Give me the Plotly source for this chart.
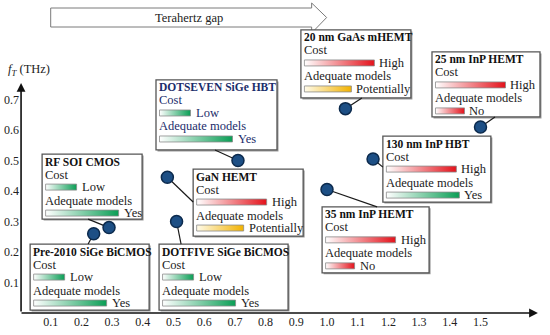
import plotly.graph_objects as go

# ---------------- data ----------------
names = ["Pre-2010 SiGe BiCMOS", "RF SOI CMOS", "DOTSEVEN SiGe HBT", "GaN HEMT",
         "DOTFIVE SiGe BiCMOS", "20 nm GaAs mHEMT", "25 nm InP HEMT",
         "130 nm InP HBT", "35 nm InP HEMT"]
fmax = [0.24, 0.29, 0.71, 0.48, 0.51, 1.06, 1.50, 1.15, 1.00]
ft = [0.26, 0.28, 0.50, 0.445, 0.30, 0.67, 0.61, 0.505, 0.405]
cost = ["Low", "Low", "Low", "High", "Low", "High", "High", "High", "High"]
models = ["Yes", "Yes", "Yes", "Potentially", "Yes", "Potentially", "No", "Yes", "No"]

x_ticks = [0.1, 0.2, 0.3, 0.4, 0.5, 0.6, 0.7, 0.8, 0.9, 1.0, 1.1, 1.2, 1.3, 1.4, 1.5]
y_ticks = [0.1, 0.2, 0.3, 0.4, 0.5, 0.6, 0.7]
gap_from, gap_to = 0.1, 0.95   # "Terahertz gap" arrow body (fmax units)

# ---------------- layout / style ----------------
W, H = 550, 335
ML, MR, MT, MB = 20, 0, 0, 22
XMAX, YMAX = 1.7264, 1.0262
PW, PH = W - ML - MR, H - MT - MB
KX = PW / XMAX     # px per x unit
KY = PH / YMAX     # px per y unit
FONT = "Liberation Serif, Times New Roman, serif"

# box placement (top-left in axis units), size in px, connector anchor offset in px
box_x0 = [0.033, 0.072, 0.443, 0.564, 0.453, 0.915, 1.342, 1.182, 0.984]
box_yt = [0.226, 0.521, 0.764, 0.472, 0.226, 0.928, 0.856, 0.580, 0.348]
box_w = [119, 100, 121, 110, 129, 110, 108, 108, 107]
box_h = [66, 65, 70, 67, 66, 68, 65, 66, 66]
anc_dx = [58, 46, 59, 0, 22, 61, 63, 0, 55]
anc_dy = [0, 65, 70, 33, 0, 68, 65, 31, 0]
title_color = ["#111", "#111", "#1b2d6b", "#111", "#111", "#111", "#111", "#111", "#111"]
text_color = ["#222", "#222", "#1b2d6b", "#222", "#222", "#222", "#222", "#222", "#222"]

GREEN, RED, YELLOW = "#0a9e55", "#e4121b", "#f2b200"
bar_len = {"Low": 31, "High": 70, "Yes": 73, "Potentially": 47, "No": 29}
bar_col = {"Low": GREEN, "High": RED, "Yes": GREEN, "Potentially": YELLOW, "No": RED}
bar_start = {GREEN: "#ffffff", RED: "#ffffff", YELLOW: "#fffbea"}

fig = go.Figure()
shapes, annos = [], []

def dx(p):
    return p / KX

def dy(p):
    return p / KY

# Terahertz gap arrow
gy0, gy1 = YMAX - dy(27), YMAX - dy(8)
hy0, hy1 = YMAX - dy(33), YMAX - dy(3)
gmid = (gy0 + gy1) / 2
tip = gap_to + dx(15)
path = (f"M{gap_from},{gy0} L{gap_to},{gy0} L{gap_to},{hy0} L{tip},{gmid} "
        f"L{gap_to},{hy1} L{gap_to},{gy1} L{gap_from},{gy1} Z")
shapes.append(dict(type="path", path=path, xref="x", yref="y",
                   line=dict(color="#7a7a7a", width=1), fillcolor="white", layer="below"))
annos.append(dict(x=(gap_from + gap_to) / 2 + dx(8), y=gmid, text="Terahertz gap",
                  showarrow=False, xanchor="center", yanchor="middle",
                  font=dict(family=FONT, size=12.5, color="#222")))

# connectors
cx, cy = [], []
for i in range(len(names)):
    cx += [fmax[i], box_x0[i] + dx(anc_dx[i]), None]
    cy += [ft[i], box_yt[i] - dy(anc_dy[i]), None]
fig.add_trace(go.Scatter(x=cx, y=cy, mode="lines", line=dict(color="#1a1a1a", width=1.2),
                         hoverinfo="skip", showlegend=False))

# boxes
for i in range(len(names)):
    x0, yt = box_x0[i], box_yt[i]
    x1, yb = x0 + dx(box_w[i]), yt - dy(box_h[i])
    shapes.append(dict(type="rect", xref="x", yref="y", x0=x0 + dx(1.5), x1=x1 + dx(1.5),
                       y0=yb - dy(1.5), y1=yt - dy(1.5), line=dict(width=0),
                       fillcolor="#9a9a9a", layer="below"))
    shapes.append(dict(type="rect", xref="x", yref="y", x0=x0, x1=x1, y0=yb, y1=yt,
                       line=dict(color="#555555", width=1.3), fillcolor="white", layer="below"))
    tx = x0 + dx(1)
    annos.append(dict(x=tx, y=yt - dy(7.5), text="<b>" + names[i] + "</b>", showarrow=False,
                      xanchor="left", yanchor="middle",
                      font=dict(family=FONT, size=11.5, color=title_color[i])))
    annos.append(dict(x=tx, y=yt - dy(20.5), text="Cost", showarrow=False,
                      xanchor="left", yanchor="middle",
                      font=dict(family=FONT, size=12.5, color=text_color[i])))
    annos.append(dict(x=tx, y=yt - dy(46.5), text="Adequate models", showarrow=False,
                      xanchor="left", yanchor="middle",
                      font=dict(family=FONT, size=12.5, color=text_color[i])))
    for lvl, off in ((cost[i], 33), (models[i], 59)):
        bx0 = x0 + dx(3.5)
        bx1 = bx0 + dx(bar_len[lvl])
        by0, by1 = yt - dy(off + 3), yt - dy(off - 3)
        col = bar_col[lvl]
        fig.add_trace(go.Scatter(
            x=[bx0, bx1, bx1, bx0, bx0], y=[by0, by0, by1, by1, by0],
            mode="lines", fill="toself",
            line=dict(color="#8a8a8a", width=0.8),
            fillgradient=dict(type="horizontal",
                              colorscale=[[0, bar_start[col]], [1, col]]),
            hoverinfo="skip", showlegend=False))
        annos.append(dict(x=bx1 + dx(3), y=(by0 + by1) / 2, text=lvl, showarrow=False,
                          xanchor="left", yanchor="middle",
                          font=dict(family=FONT, size=12.5, color=text_color[i])))

# device points
fig.add_trace(go.Scatter(x=fmax, y=ft, mode="markers", text=names,
                         marker=dict(size=12, color="#1d4f85",
                                     line=dict(color="#0c2a4d", width=1.5)),
                         hovertemplate="%{text}<br>fmax %{x} THz<br>fT %{y} THz<extra></extra>",
                         showlegend=False))

# axes arrows (paper coordinates, offsets in px)
x_tip = 1.687
y_tip = 0.754
annos.append(dict(x=x_tip / XMAX, y=0, xref="paper", yref="paper",
                  ax=-x_tip * KX, ay=0, axref="pixel", ayref="pixel",
                  text="", showarrow=True, arrowhead=2, arrowsize=1.1, arrowwidth=1.6,
                  arrowcolor="#111"))
annos.append(dict(x=0.002, y=y_tip / YMAX, xref="paper", yref="paper",
                  ax=0, ay=y_tip * KY, axref="pixel", ayref="pixel",
                  text="", showarrow=True, arrowhead=2, arrowsize=1.1, arrowwidth=1.6,
                  arrowcolor="#111"))
annos.append(dict(x=0.029, y=0.797, text="<i>f<sub>T</sub></i> (THz)", showarrow=False,
                  xanchor="center", yanchor="middle",
                  font=dict(family=FONT, size=12.5, color="#222")))
annos.append(dict(x=1.638, y=-0.036, text="<i>f<sub>max</sub></i> (THz)", showarrow=False,
                  xanchor="center", yanchor="middle",
                  font=dict(family=FONT, size=12.5, color="#222")))

fig.update_layout(
    width=W, height=H, margin=dict(l=ML, r=MR, t=MT, b=MB, autoexpand=False),
    paper_bgcolor="white", plot_bgcolor="white",
    shapes=shapes, annotations=annos, showlegend=False,
    xaxis=dict(range=[0, XMAX], showgrid=False, zeroline=False, showline=False,
               automargin=False,
               tickvals=x_ticks, ticktext=[f"{v:.1f}" for v in x_ticks], ticks="",
               ticklabelstandoff=0,
               tickfont=dict(family=FONT, size=12, color="#222"), fixedrange=True),
    yaxis=dict(range=[0, YMAX], showgrid=False, zeroline=False, showline=False,
               automargin=False,
               tickvals=y_ticks, ticktext=[f"{v:.1f}" for v in y_ticks], ticks="",
               tickfont=dict(family=FONT, size=12, color="#222"), fixedrange=True),
)

fig.write_html("out.html", config={"displayModeBar": False},
               post_script="document.body.style.margin='0';document.body.style.overflow='hidden';")
